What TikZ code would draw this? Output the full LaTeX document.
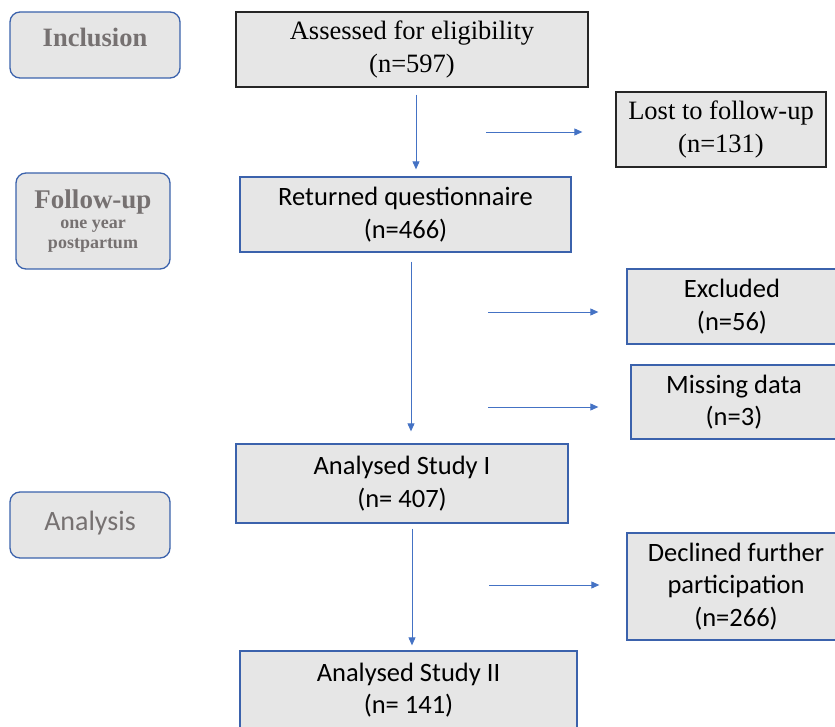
\documentclass[tikz,border=0pt]{standalone}
\usepackage{fontspec}
\setmainfont{Liberation Serif}
\newfontfamily\calibri{Carlito}
\usetikzlibrary{%
    arrows.meta,%
    calc,%
    positioning%
}
\definecolor{boxblue}{HTML}{3B62AC}
\definecolor{arrowblue}{HTML}{4472C4}
\definecolor{boxgray}{HTML}{E6E6E6}
\definecolor{labelgray}{HTML}{767171}
\tikzset{
    flowbox/.style={draw=boxblue, fill=boxgray, line width=1.3pt, align=center, inner sep=0pt, font=\calibri\fontsize{26.5}{32.5}\selectfont},
    blackbox/.style={flowbox, draw=black!85, font=\fontsize{26.5}{33.5}\selectfont},
    stagebox/.style={draw=boxblue, fill=boxgray, line width=1.3pt, rounded corners=10pt, align=center, inner sep=0pt, text=labelgray},
    flowarrow/.style={arrowblue, line width=0.9pt, -{Triangle[length=8pt,width=7pt]}}
}
\begin{document}
\begin{tikzpicture}[x=1pt,y=-1pt]
				\useasboundingbox (0,0) rectangle (835,727);
				\clip (0,0) rectangle (835,727);

				% stages
				\node[stagebox, minimum width=170pt, minimum height=66pt, text depth=15pt, font=\bfseries\fontsize{26.5}{30}\selectfont] (inclusion) at (95,45) {Inclusion};
				\node[stagebox, minimum width=154pt, minimum height=96pt, font=\bfseries\fontsize{18}{20}\selectfont] (followup) at (93,221) {{\fontsize{27}{29}\selectfont Follow-up}\\one year\\postpartum};
				\node[stagebox, minimum width=160pt, minimum height=66pt, text depth=9pt, font=\calibri\fontsize{28}{32}\selectfont] (analysis) at (90,525) {Analysis};

				% main flow
				\node[blackbox, minimum width=352pt, minimum height=75pt] (assessed) at (412,49.5) {Assessed for eligibility\\(n=597)};
				\node[flowbox, minimum width=331pt, minimum height=75pt] (returned) at (405.5,214.5) {Returned questionnaire\\(n=466)};
				\node[flowbox, minimum width=332pt, minimum height=79pt] (studyone) at (402,483.5) {Analysed Study I\\(n= 407)};
				\node[flowbox, minimum width=337pt, minimum height=78pt] (studytwo) at (408.5,690) {Analysed Study II\\(n= 141)};

				% drop-outs
				\node[blackbox, minimum width=210pt, minimum height=75pt] (lost) at (721,129.5) {Lost to follow-up\\(n=131)};
				\node[flowbox, minimum width=210pt, minimum height=75pt] (excluded) at (732,306.5) {Excluded\\(n=56)};
				\node[flowbox, minimum width=206pt, minimum height=74pt] (missing) at (734,402) {Missing data\\(n=3)};
				\node[flowbox, minimum width=218pt, minimum height=107pt] (declined) at (736,586.5) {Declined further\\participation\\(n=266)};

				% arrows
				\coordinate (v1) at (416,0);
				\coordinate (v2) at (411,0);
				\coordinate (v3) at (412,0);
				\draw[flowarrow, shorten <=7pt, shorten >=7pt] (assessed.south -| v1) -- (returned.north -| v1);
				\draw[flowarrow, shorten <=9pt, shorten >=12pt] (returned.south -| v2) -- (studyone.north -| v2);
				\draw[flowarrow, shorten <=5pt, shorten >=5pt] (studyone.south -| v3) -- (studytwo.north -| v3);

				\coordinate (h1) at (486,132);
				\coordinate (h2) at (488,312);
				\coordinate (h3) at (488,407);
				\coordinate (h4) at (489,585);
				\draw[flowarrow, shorten >=33pt] (h1) -- (h1 -| lost.west);
				\draw[flowarrow, shorten >=28pt] (h2) -- (h2 -| excluded.west);
				\draw[flowarrow, shorten >=32pt] (h3) -- (h3 -| missing.west);
				\draw[flowarrow, shorten >=27pt] (h4) -- (h4 -| declined.west);
\end{tikzpicture}
\end{document}
